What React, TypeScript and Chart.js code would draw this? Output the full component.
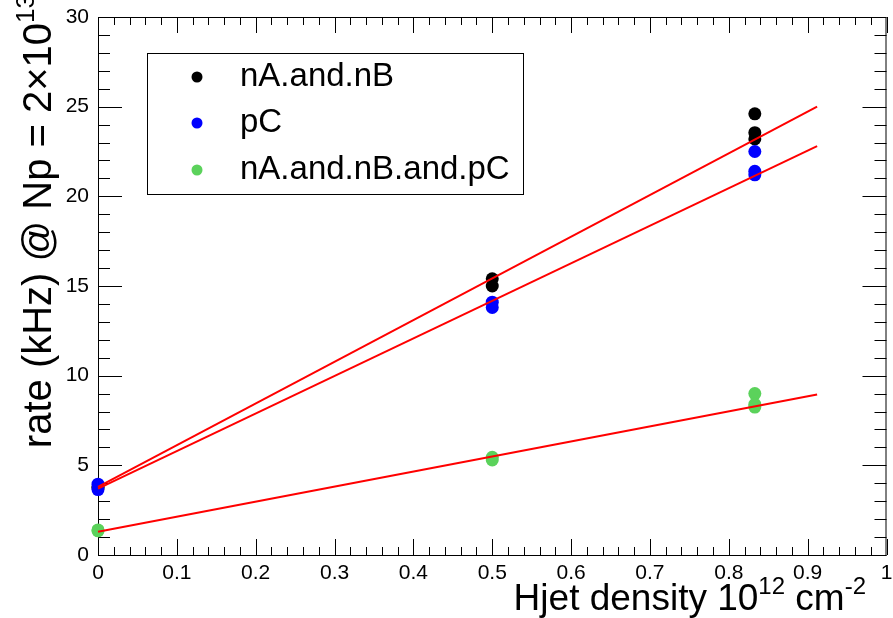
import React, { useEffect, useRef } from "react";
import { Chart, registerables } from "chart.js";

Chart.register(...registerables);

// ---- data ----
const densityNAnB = [0, 0, 0.5, 0.5, 0.833, 0.833, 0.833];
const rateNAnB = [3.8, 3.75, 15.4, 15.0, 24.6, 23.55, 23.2];
const densityPC = [0, 0, 0.5, 0.5, 0.833, 0.833, 0.833];
const ratePC = [3.95, 3.65, 14.1, 13.8, 22.5, 21.4, 21.2];
const densityAll = [0, 0, 0.5, 0.5, 0.833, 0.833, 0.833];
const rateAll = [1.4, 1.35, 5.45, 5.3, 9.0, 8.4, 8.25];

const fitX = [0, 0.912];
const fitNAnB = [3.8, 25.0];
const fitPC = [3.7, 22.8];
const fitAll = [1.3, 8.95];

const xTickValues = [0, 0.1, 0.2, 0.3, 0.4, 0.5, 0.6, 0.7, 0.8, 0.9, 1];
const xTickLabels = ["0", "0.1", "0.2", "0.3", "0.4", "0.5", "0.6", "0.7", "0.8", "0.9", "1"];
const yTickValues = [0, 5, 10, 15, 20, 25, 30];
const yTickLabels = ["0", "5", "10", "15", "20", "25", "30"];

const seriesNames = ["nA.and.nB", "pC", "nA.and.nB.and.pC"];
const seriesColors = ["#000000", "#0000ff", "#5bd25b"];
const fitColor = "#ff0000";

const FONT = "'Liberation Sans', Arial, Helvetica, sans-serif";

type Seg = { t: string; sup?: boolean };

function segWidth(ctx: CanvasRenderingContext2D, segs: Seg[], size: number) {
  let w = 0;
  for (const s of segs) {
    ctx.font = `${s.sup ? Math.round(size * 0.65) : size}px ${FONT}`;
    w += ctx.measureText(s.t).width;
  }
  return w;
}

function drawSegs(ctx: CanvasRenderingContext2D, segs: Seg[], x: number, y: number, size: number) {
  let cx = x;
  ctx.textBaseline = "alphabetic";
  ctx.textAlign = "left";
  for (const s of segs) {
    const fs = s.sup ? Math.round(size * 0.65) : size;
    ctx.font = `${fs}px ${FONT}`;
    ctx.fillText(s.t, cx, s.sup ? y - size * 0.42 : y);
    cx += ctx.measureText(s.t).width;
  }
}

const rootPlugin = {
  id: "rootFrame",
  beforeDatasetsDraw(chart: any) {
    const { ctx, chartArea } = chart;
    const xs = chart.scales.x;
    const ys = chart.scales.y;
    const { left, right, top, bottom } = chartArea;
    ctx.save();
    ctx.strokeStyle = "#000";
    ctx.lineWidth = 1;
    ctx.strokeRect(left + 0.5, top + 0.5, right - left - 1, bottom - top);
    ctx.beginPath();
    for (let i = 0; i <= 50; i++) {
      const v = i * 0.02;
      const px = Math.round(xs.getPixelForValue(v)) + 0.5;
      const len = i % 5 === 0 ? 16 : 8;
      ctx.moveTo(px, bottom);
      ctx.lineTo(px, bottom - len);
      ctx.moveTo(px, top);
      ctx.lineTo(px, top + len);
    }
    for (let i = 0; i <= 30; i++) {
      const py = Math.round(ys.getPixelForValue(i)) + 0.5;
      const len = i % 5 === 0 ? 24 : 12;
      ctx.moveTo(left, py);
      ctx.lineTo(left + len, py);
      ctx.moveTo(right, py);
      ctx.lineTo(right - len, py);
    }
    ctx.stroke();
    ctx.restore();
  },
  afterDraw(chart: any) {
    const { ctx } = chart;
    ctx.save();
    ctx.fillStyle = "#000";
    // x title
    const xSegs: Seg[] = [{ t: "Hjet density 10" }, { t: "12", sup: true }, { t: " cm" }, { t: "-2", sup: true }];
    const ts = 37;
    const xw = segWidth(ctx, xSegs, ts);
    drawSegs(ctx, xSegs, 866 - xw, 610, ts);
    // y title
    const ySegs: Seg[] = [{ t: "rate (kHz) @ Np = 2\u00d710" }, { t: "13", sup: true }];
    const ys = 40;
    const yw = segWidth(ctx, ySegs, ys);
    ctx.save();
    ctx.translate(51, -6 + yw);
    ctx.rotate(-Math.PI / 2);
    drawSegs(ctx, ySegs, 0, 0, ys);
    ctx.restore();
    // legend
    ctx.fillStyle = "#fff";
    ctx.fillRect(147, 53, 376, 141);
    ctx.strokeStyle = "#000";
    ctx.lineWidth = 1;
    ctx.strokeRect(147.5, 53.5, 376, 141);
    const rows = [77, 123, 170];
    for (let i = 0; i < seriesNames.length; i++) {
      ctx.fillStyle = seriesColors[i];
      ctx.beginPath();
      ctx.arc(197, rows[i], 5.5, 0, Math.PI * 2);
      ctx.fill();
      ctx.fillStyle = "#000";
      ctx.font = `33px ${FONT}`;
      ctx.textBaseline = "middle";
      ctx.textAlign = "left";
      ctx.fillText(seriesNames[i], 240, rows[i]);
    }
    ctx.restore();
  },
};

function pts(xv: number[], yv: number[]) {
  return xv.map((x, i) => ({ x, y: yv[i] }));
}

export default function App() {
  const ref = useRef<HTMLCanvasElement | null>(null);
  useEffect(() => {
    document.body.style.margin = "0";
    if (!ref.current) return;
    const scatterDs = (label: string, xv: number[], yv: number[], color: string, order: number) => ({
      type: "scatter" as const,
      label,
      data: pts(xv, yv),
      backgroundColor: color,
      borderColor: color,
      pointRadius: 6.5,
      pointBorderWidth: 0,
      clip: false,
      order,
    });
    const fitDs = (label: string, yv: number[]) => ({
      type: "line" as const,
      label,
      data: pts(fitX, yv),
      borderColor: fitColor,
      borderWidth: 2,
      pointRadius: 0,
      fill: false,
      clip: false,
      order: 0,
    });
    const chart = new Chart(ref.current, {
      type: "scatter",
      data: {
        datasets: [
          fitDs("fit nA.and.nB", fitNAnB),
          fitDs("fit pC", fitPC),
          fitDs("fit nA.and.nB.and.pC", fitAll),
          scatterDs(seriesNames[2], densityAll, rateAll, seriesColors[2], 1),
          scatterDs(seriesNames[1], densityPC, ratePC, seriesColors[1], 2),
          scatterDs(seriesNames[0], densityNAnB, rateNAnB, seriesColors[0], 3),
        ] as any,
      },
      options: {
        animation: false,
        responsive: false,
        maintainAspectRatio: false,
        layout: { padding: { top: 17, right: 1, left: 0, bottom: 0 } },
        plugins: { legend: { display: false }, tooltip: { enabled: false } },
        scales: {
          x: {
            type: "linear",
            min: 0,
            max: 1,
            grid: { display: false, drawTicks: false },
            border: { display: false },
            afterBuildTicks: (s: any) => {
              s.ticks = xTickValues.map((v) => ({ value: v }));
            },
            ticks: {
              autoSkip: false,
              maxRotation: 0,
              padding: 6,
              color: "#000",
              font: { family: FONT, size: 21 },
              callback: (v: any) => {
                const i = xTickValues.findIndex((t) => Math.abs(t - Number(v)) < 1e-6);
                return i >= 0 ? xTickLabels[i] : "";
              },
            },
            afterFit: (s: any) => {
              s.height = 63;
              s.paddingLeft = 0;
              s.paddingRight = 0;
            },
          },
          y: {
            type: "linear",
            min: 0,
            max: 30,
            grid: { display: false, drawTicks: false },
            border: { display: false },
            afterBuildTicks: (s: any) => {
              s.ticks = yTickValues.map((v) => ({ value: v }));
            },
            ticks: {
              autoSkip: false,
              padding: 9,
              color: "#000",
              font: { family: FONT, size: 21 },
              callback: (v: any) => {
                const i = yTickValues.findIndex((t) => Math.abs(t - Number(v)) < 1e-6);
                return i >= 0 ? yTickLabels[i] : "";
              },
            },
            afterFit: (s: any) => {
              s.width = 98;
              s.paddingTop = 0;
              s.paddingBottom = 0;
            },
          },
        },
      } as any,
      plugins: [rootPlugin],
    });
    return () => chart.destroy();
  }, []);
  return (
    <div style={{ position: "absolute", left: 0, top: 0, width: 893, height: 618, background: "#fff" }}>
      <canvas ref={ref} width={893} height={618} />
    </div>
  );
}
